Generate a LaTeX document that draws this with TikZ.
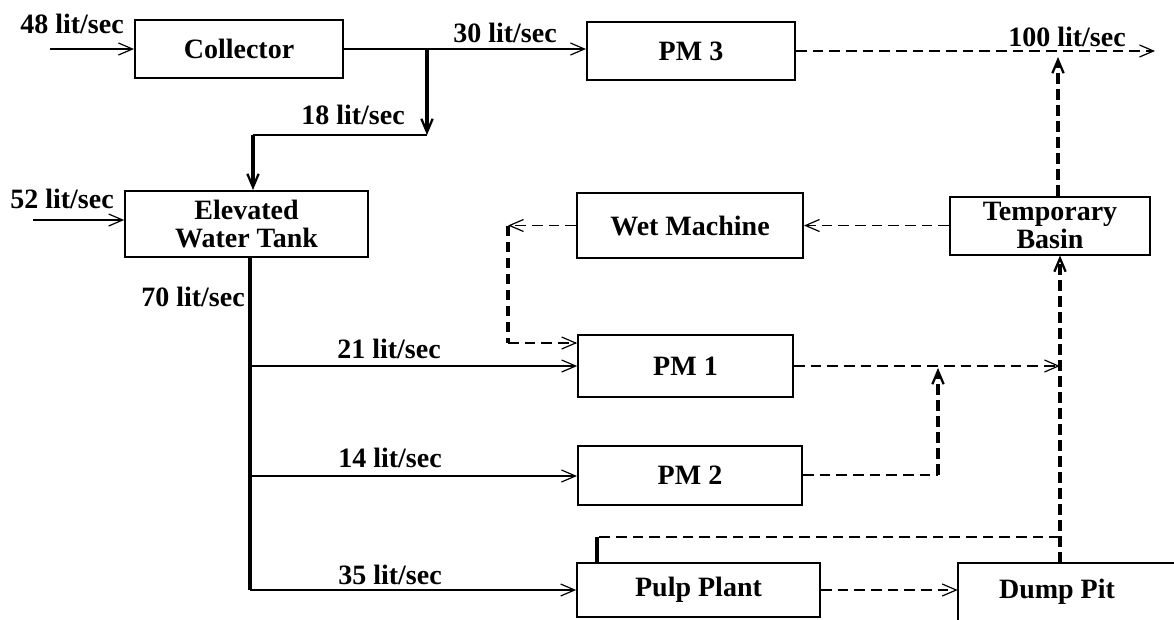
\documentclass[tikz,border=0pt]{standalone}
\usepackage{fontspec}
\setmainfont{Liberation Serif}
\usetikzlibrary{arrows.meta}
\begin{document}
\begin{tikzpicture}[x=0.75pt,y=-0.75pt,
  txt/.style={font=\fontsize{21}{21}\selectfont\bfseries, inner sep=0pt, align=center},
  blk/.style={draw, line width=1.5pt, txt},
  sol/.style={line width=0.8pt},
  solthick/.style={line width=2.4pt},
  dsh/.style={line width=0.9pt, dash pattern=on 8pt off 4.5pt},
  dshthick/.style={line width=2.4pt, dash pattern=on 8pt off 4pt},
  tip/.style={-{Straight Barb[length=10.5pt,width=9pt,line width=0.9pt]}},
  tipb/.style={-{Straight Barb[length=10pt,width=8.5pt,line width=1.7pt]}},
]
\useasboundingbox (0,0) rectangle (1174,619);

% boxes
\node[blk, minimum width=156pt, minimum height=43.5pt] (coll) at (239,49) {Collector};
\node[blk, minimum width=156pt, minimum height=44pt] (pm3) at (691,51) {PM 3};
\node[blk, minimum width=182pt, minimum height=49.5pt] (elev) at (246.5,224) {Elevated\\Water Tank};
\node[blk, minimum width=169.5pt, minimum height=48.75pt] (wet) at (690,225.5) {Wet Machine};
\node[blk, minimum width=150pt, minimum height=43.5pt] (basin) at (1050,225.5) {Temporary\\Basin};
\node[blk, minimum width=161pt, minimum height=46.5pt] (pm1) at (685.5,366) {PM 1};
\node[blk, minimum width=168pt, minimum height=44.25pt] (pm2) at (690,475) {PM 2};
\node[blk, minimum width=182pt, minimum height=40.5pt] (pulp) at (698.5,590) {Pulp Plant};
\node[txt, minimum width=148.5pt, minimum height=43.5pt] (dump) at (1057,592) {Dump Pit};
\draw[line width=1.5pt] (dump.south west) -- (dump.north west) -- ++(230,0);

% inputs
\coordinate (in1) at (50,49);
\draw[sol,tip] (in1) -- (coll.west);
\node[txt] (l48) at (72,24) {48 lit/sec};
\coordinate (in2) at (33,220);
\draw[sol,tip] (in2) -- (in2 -| elev.west);
\node[txt] (l52) at (62,199) {52 lit/sec};

% collector split
\draw[sol,tip] (coll.east) -- (coll.east -| pm3.west);
\node[txt] (l30) at (505,33) {30 lit/sec};
\coordinate (j1) at (427,49);
\coordinate (j2) at (427,135);
\coordinate (j3) at (253,135);
\draw[solthick,tipb] (j1) -- (j2);
\draw[sol] (j2) -- (j3);
\draw[solthick,tipb] (j3) -- (j3 |- elev.north);
\node[txt] (l18) at (353,115) {18 lit/sec};

% trunk from tank
\coordinate (b1) at (250,366);
\coordinate (b2) at (250,476);
\coordinate (b3) at (250,590);
\draw[solthick] (elev.south -| b3) -- (b3);
\draw[sol,tip] (b1) -- (b1 -| pm1.west);
\draw[sol,tip] (b2) -- (b2 -| pm2.west);
\draw[sol,tip] (b3) -- (b3 -| pulp.west);
\node[txt, anchor=east] (l70) at (245,297) {70 lit/sec};
\node[txt] (l21) at (389,349) {21 lit/sec};
\node[txt] (l14) at (390,458) {14 lit/sec};
\node[txt] (l35) at (390,575) {35 lit/sec};

% effluent / recycle
\draw[dsh,tip] (basin.west) -- (wet.east);
\coordinate (w1) at (508,225.5);
\coordinate (w2) at (508,343);
\draw[dsh,tip] (wet.west) -- (w1);
\draw[dshthick] (w1) -- (w2);
\draw[dsh,tip] (w2) -- (w2 -| pm1.west);

\coordinate (o1) at (1155,51);
\draw[dsh,tip] (pm3.east) -- (o1);
\node[txt] (l100) at (1067,37) {100 lit/sec};
\coordinate (u1) at (1058,57);
\draw[dshthick,tipb] (basin.north -| u1) -- (u1);

\coordinate (v0) at (1060,563);
\coordinate (v1) at (1060,366);
\coordinate (v2) at (1060,537);
\draw[dshthick,tipb] (v0) -- (v0 |- basin.south);
\draw[dsh,tip] (pm1.east) -- (v1);
\coordinate (p1) at (938,475);
\coordinate (p2) at (938,368);
\draw[dsh] (pm2.east) -- (p1);
\draw[dshthick,tipb] (p1) -- (p2);
\coordinate (q1) at (597,537);
\draw[dsh] (v2) -- (q1);
\draw[solthick] (q1) -- (q1 |- pulp.north);
\draw[dsh,tip] (pulp.east) -- (pulp.east -| dump.west);
\end{tikzpicture}
\end{document}
